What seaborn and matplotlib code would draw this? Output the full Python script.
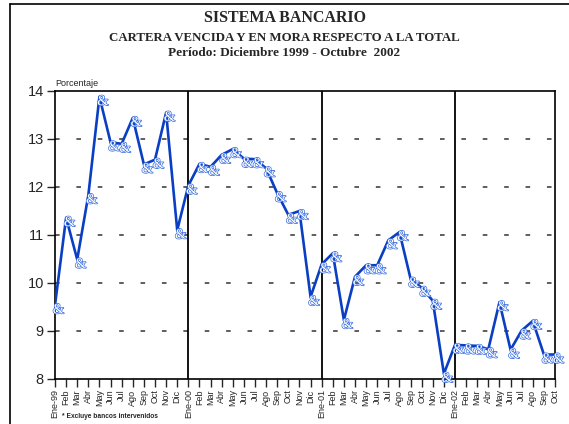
import matplotlib
matplotlib.use("Agg")
import matplotlib.pyplot as plt
import matplotlib.patheffects as pe
import seaborn as sns
import pandas as pd
import numpy as np

# Datos: cartera vencida y en mora respecto a la total (%)
meses = ["Ene-99", "Feb", "Mar", "Abr", "May", "Jun", "Jul", "Ago", "Sep", "Oct", "Nov", "Dic",
         "Ene-00", "Feb", "Mar", "Abr", "May", "Jun", "Jul", "Ago", "Sep", "Oct", "Nov", "Dic",
         "Ene-01", "Feb", "Mar", "Abr", "May", "Jun", "Jul", "Ago", "Sep", "Oct", "Nov", "Dic",
         "Ene-02", "Feb", "Mar", "Abr", "May", "Jun", "Jul", "Ago", "Sep", "Oct"]
valores_1999 = [9.54, 11.36, 10.49, 11.83, 13.88, 12.93, 12.90, 13.44, 12.47, 12.57, 13.55, 11.10]
valores_2000 = [12.03, 12.48, 12.42, 12.67, 12.79, 12.59, 12.58, 12.39, 11.87, 11.42, 11.50, 9.71]
valores_2001 = [10.39, 10.62, 9.23, 10.13, 10.37, 10.37, 10.89, 11.06, 10.09, 9.90, 9.63, 8.11]
valores_2002 = [8.71, 8.70, 8.69, 8.62, 9.60, 8.61, 9.01, 9.21, 8.51, 8.51]
inicios_anio = [12, 24, 36]

valores = valores_1999 + valores_2000 + valores_2001 + valores_2002
df = pd.DataFrame({"pos": np.arange(len(meses)), "mes": meses, "valor": valores})

sns.set_style("white")
plt.rcParams["font.family"] = ["Liberation Sans", "DejaVu Sans"]

fig = plt.figure(figsize=(5.69, 4.24), dpi=100)
ax = fig.add_axes([55 / 569, 1 - 379 / 424, 500 / 569, 288 / 424])

# lineas de grilla punteadas
for y in range(9, 14):
    ax.axhline(y, color="#333333", lw=1.1, ls=(0, (3, 11)), zorder=1)
for x in inicios_anio:
    ax.axvline(x, color="black", lw=1.3, zorder=2)

sns.lineplot(data=df, x="pos", y="valor", ax=ax, color="#0a3fc4", lw=1.9, zorder=3)

# marcadores "&" como en el original
for x, v in zip(df["pos"], df["valor"]):
    ax.annotate("&", (x, v), xytext=(2.5, -3.5), textcoords="offset points",
                ha="center", va="center", fontsize=10.5, family="Liberation Serif",
                color="white", zorder=4, annotation_clip=False,
                path_effects=[pe.withStroke(linewidth=1.0, foreground="#3a6ee0")])

ax.set_xlim(0, len(meses) - 1)
ax.set_ylim(8, 14)
ax.set_xticks(df["pos"])
ax.set_xticklabels(meses, rotation=90, fontsize=6.5)
ax.set_yticks(range(8, 15))
ax.tick_params(axis="y", labelsize=10.5, length=6, width=1, direction="out", pad=2, left=True)
ax.tick_params(axis="x", length=6, width=1, direction="out", pad=1.5, bottom=True)
ax.set_xlabel("")
ax.set_ylabel("")
for s in ax.spines.values():
    s.set_color("black")
    s.set_linewidth(1.2)

ax.text(0.0, 1.01, "Porcentaje", transform=ax.transAxes, fontsize=6.5, va="bottom", ha="left")

fig.text(0.5, 1 - 18 / 424, "SISTEMA BANCARIO", ha="center", va="center",
         family="Liberation Serif", fontweight="bold", fontsize=11.5)
fig.text(0.5, 1 - 38 / 424, "CARTERA VENCIDA Y EN MORA RESPECTO A LA TOTAL", ha="center", va="center",
         family="Liberation Serif", fontweight="bold", fontsize=9.3)
fig.text(0.5, 1 - 53 / 424, "Período: Diciembre 1999 - Octubre  2002", ha="center", va="center",
         family="Liberation Serif", fontweight="bold", fontsize=9.5)
fig.text(62 / 569, 1 - 417 / 424, "* Excluye bancos intervenidos", ha="left", va="center",
         fontweight="bold", fontsize=4.8)

# marco exterior
fig.add_artist(plt.Line2D([10 / 569, 10 / 569], [0, 1 - 4 / 424], color="black", lw=1.2))
fig.add_artist(plt.Line2D([10 / 569, 1], [1 - 4 / 424, 1 - 4 / 424], color="black", lw=1.2))

fig.savefig("out.png", dpi=100)
